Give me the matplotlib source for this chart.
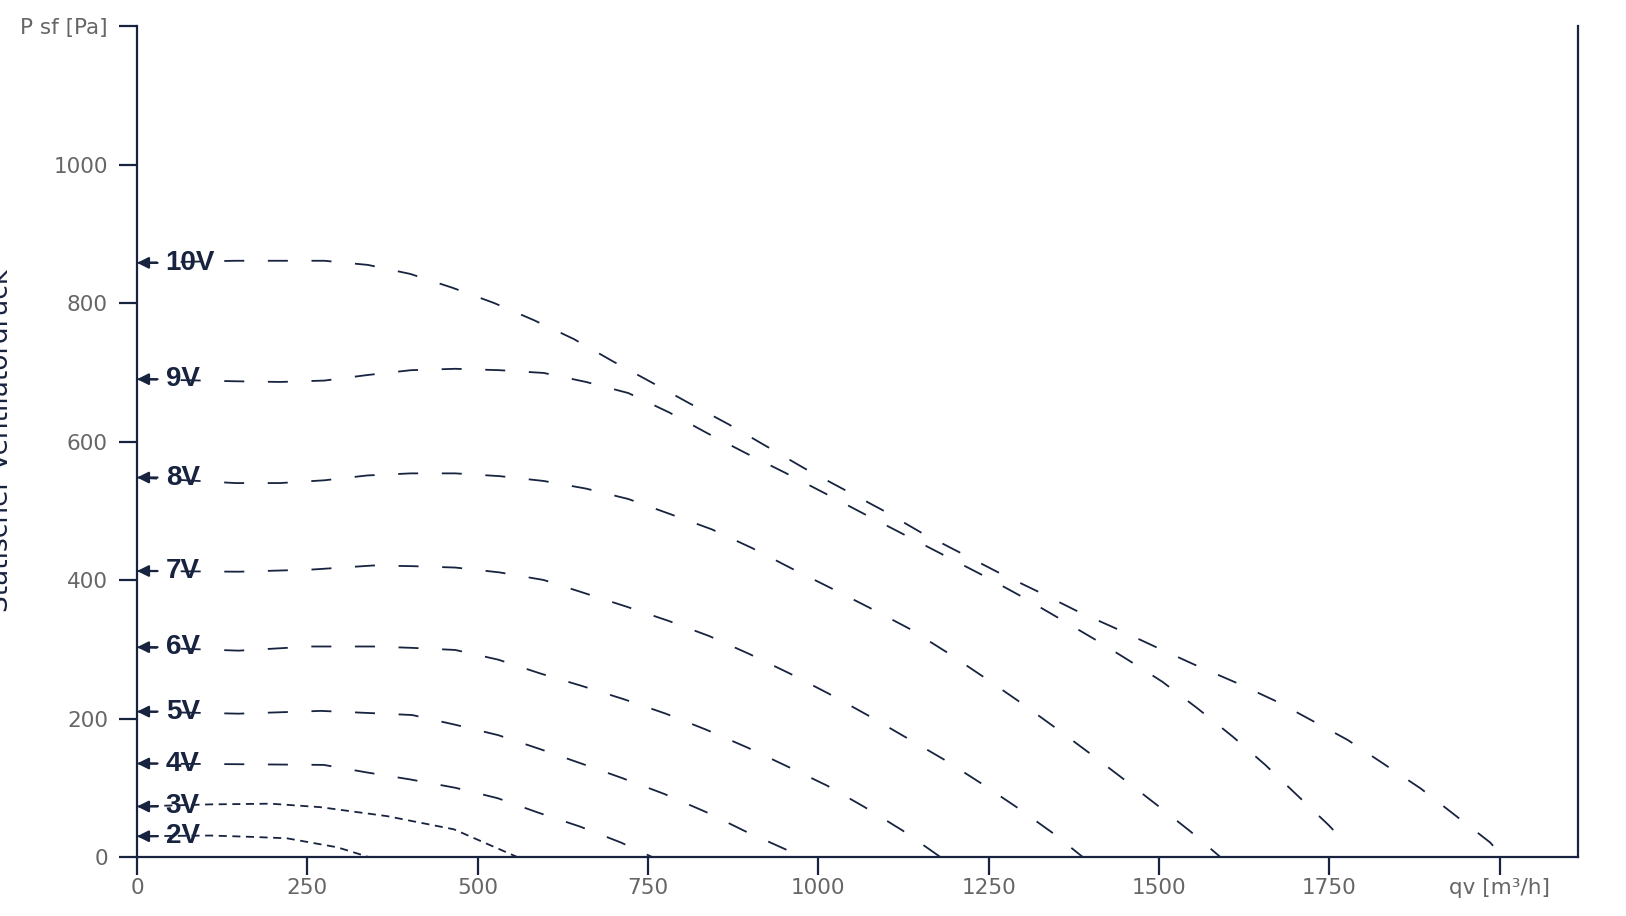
import matplotlib.pyplot as plt

plt.rcParams['font.family'] = ['DejaVu Sans']
plt.rcParams['lines.scale_dashes'] = False

navy = '#17233f'
grey = '#666666'

# fan curves (qv in m3/h, P sf in Pa)
labels = ['10V', '9V', '8V', '7V', '6V', '5V', '4V', '3V', '2V']

qv_10 = [0, 144, 210, 275, 339, 401, 463, 524, 583, 641, 698, 754, 811, 868, 924, 980, 1037, 1094,
         1150, 1207, 1264, 1323, 1380, 1439, 1498, 1556, 1615, 1674, 1719, 1777, 1829, 1884, 1935, 1986, 2005]
ps_10 = [858, 861, 861, 861, 855, 842, 822, 800, 775, 748, 716, 686, 655, 625, 593, 561, 531, 501,
         469, 440, 411, 383, 355, 329, 302, 276, 251, 224, 200, 169, 135, 99, 60, 21, 0]

qv_9 = [0, 144, 210, 275, 338, 402, 467, 532, 597, 659, 721, 781, 837, 894, 953, 1010, 1066, 1125,
        1182, 1239, 1295, 1351, 1408, 1462, 1505, 1556, 1608, 1656, 1703, 1749, 1772]
ps_9 = [690, 687, 686, 688, 696, 703, 705, 703, 699, 686, 670, 642, 612, 583, 554, 525, 496, 466,
        437, 408, 378, 346, 313, 280, 253, 215, 174, 133, 89, 46, 22]

qv_8 = [0, 144, 210, 275, 338, 402, 467, 532, 597, 659, 721, 783, 844, 903, 960, 1015, 1075, 1133,
        1188, 1241, 1294, 1346, 1398, 1450, 1501, 1546, 1590]
ps_8 = [548, 540, 540, 544, 551, 554, 554, 550, 543, 532, 517, 495, 473, 446, 417, 390, 360, 330,
        296, 261, 225, 188, 150, 111, 72, 37, 0]

qv_7 = [0, 149, 255, 347, 404, 467, 532, 597, 657, 720, 780, 840, 899, 958, 1015, 1072, 1128, 1184,
        1238, 1291, 1345, 1388]
ps_7 = [413, 412, 415, 421, 420, 418, 411, 400, 381, 361, 341, 319, 293, 265, 236, 205, 173, 141,
        107, 72, 34, 0]

qv_6 = [0, 149, 255, 347, 404, 467, 530, 592, 653, 714, 776, 835, 896, 954, 1013, 1068, 1124, 1179]
ps_6 = [303, 298, 304, 304, 302, 299, 285, 265, 247, 228, 207, 184, 158, 131, 103, 72, 38, 0]

qv_5 = [0, 149, 270, 362, 404, 467, 530, 591, 652, 712, 774, 835, 893, 952, 968]
ps_5 = [210, 207, 211, 207, 205, 191, 176, 156, 135, 114, 91, 65, 37, 11, 0]

qv_4 = [0, 149, 274, 338, 401, 467, 529, 589, 650, 710, 756]
ps_4 = [135, 134, 133, 122, 112, 100, 85, 64, 44, 21, 0]

qv_3 = [0, 108, 196, 269, 367, 465, 558]
ps_3 = [73, 76, 77, 72, 59, 40, 0]

qv_2 = [0, 108, 171, 220, 294, 340]
ps_2 = [30, 31, 29, 27, 14, 0]

curves = [(qv_10, ps_10), (qv_9, ps_9), (qv_8, ps_8), (qv_7, ps_7), (qv_6, ps_6),
          (qv_5, ps_5), (qv_4, ps_4), (qv_3, ps_3), (qv_2, ps_2)]

x_ticks = [0, 250, 500, 750, 1000, 1250, 1500, 1750, 2000]
x_ticklabels = ['0', '250', '500', '750', '1000', '1250', '1500', '1750', 'qv [m³/h]']
y_ticks = [0, 200, 400, 600, 800, 1000, 1200]
y_ticklabels = ['0', '200', '400', '600', '800', '1000', 'P sf [Pa]']

fig = plt.figure(figsize=(16.26, 9.16), dpi=100)
ax = fig.add_axes([0.0843, 0.0644, 0.8862, 0.9072])

for lab, (qv, ps) in zip(labels, curves):
    if lab in ('2V', '3V'):
        dashes = (5.8, 4.0)
    else:
        dashes = (14.4, 17.0)
    ax.plot(qv, ps, color=navy, lw=1.3, dashes=dashes, zorder=2)
    # arrow + label at the curve start
    ax.annotate('', xy=(0, ps[0]), xytext=(30, ps[0]),
                arrowprops=dict(arrowstyle='-|>', color=navy, lw=1.6,
                                mutation_scale=17, shrinkA=0, shrinkB=0))
    ax.text(42, ps[0], lab, va='center', ha='left', color=navy, fontsize=20,
            fontweight='bold', family='Liberation Sans', zorder=1)

ax.set_xlim(0, 2115)
ax.set_ylim(0, 1200)
ax.set_xticks(x_ticks)
ax.set_xticklabels(x_ticklabels)
ax.set_yticks(y_ticks)
ax.set_yticklabels(y_ticklabels)

ax.spines['top'].set_visible(False)
for side in ('left', 'bottom', 'right'):
    ax.spines[side].set_color(navy)
    ax.spines[side].set_linewidth(1.6)

ax.tick_params(axis='both', direction='out', length=13, width=1.6, color=navy,
               labelcolor=grey, labelsize=15.5)
ax.tick_params(axis='x', pad=2)
ax.tick_params(axis='y', pad=8)

fig.text(14 / 1626, 1 - 440 / 916, 'Statischer Ventilatordruck', rotation=90,
         ha='right', va='center', color=navy, fontsize=19)

fig.savefig('out.png', dpi=100)
